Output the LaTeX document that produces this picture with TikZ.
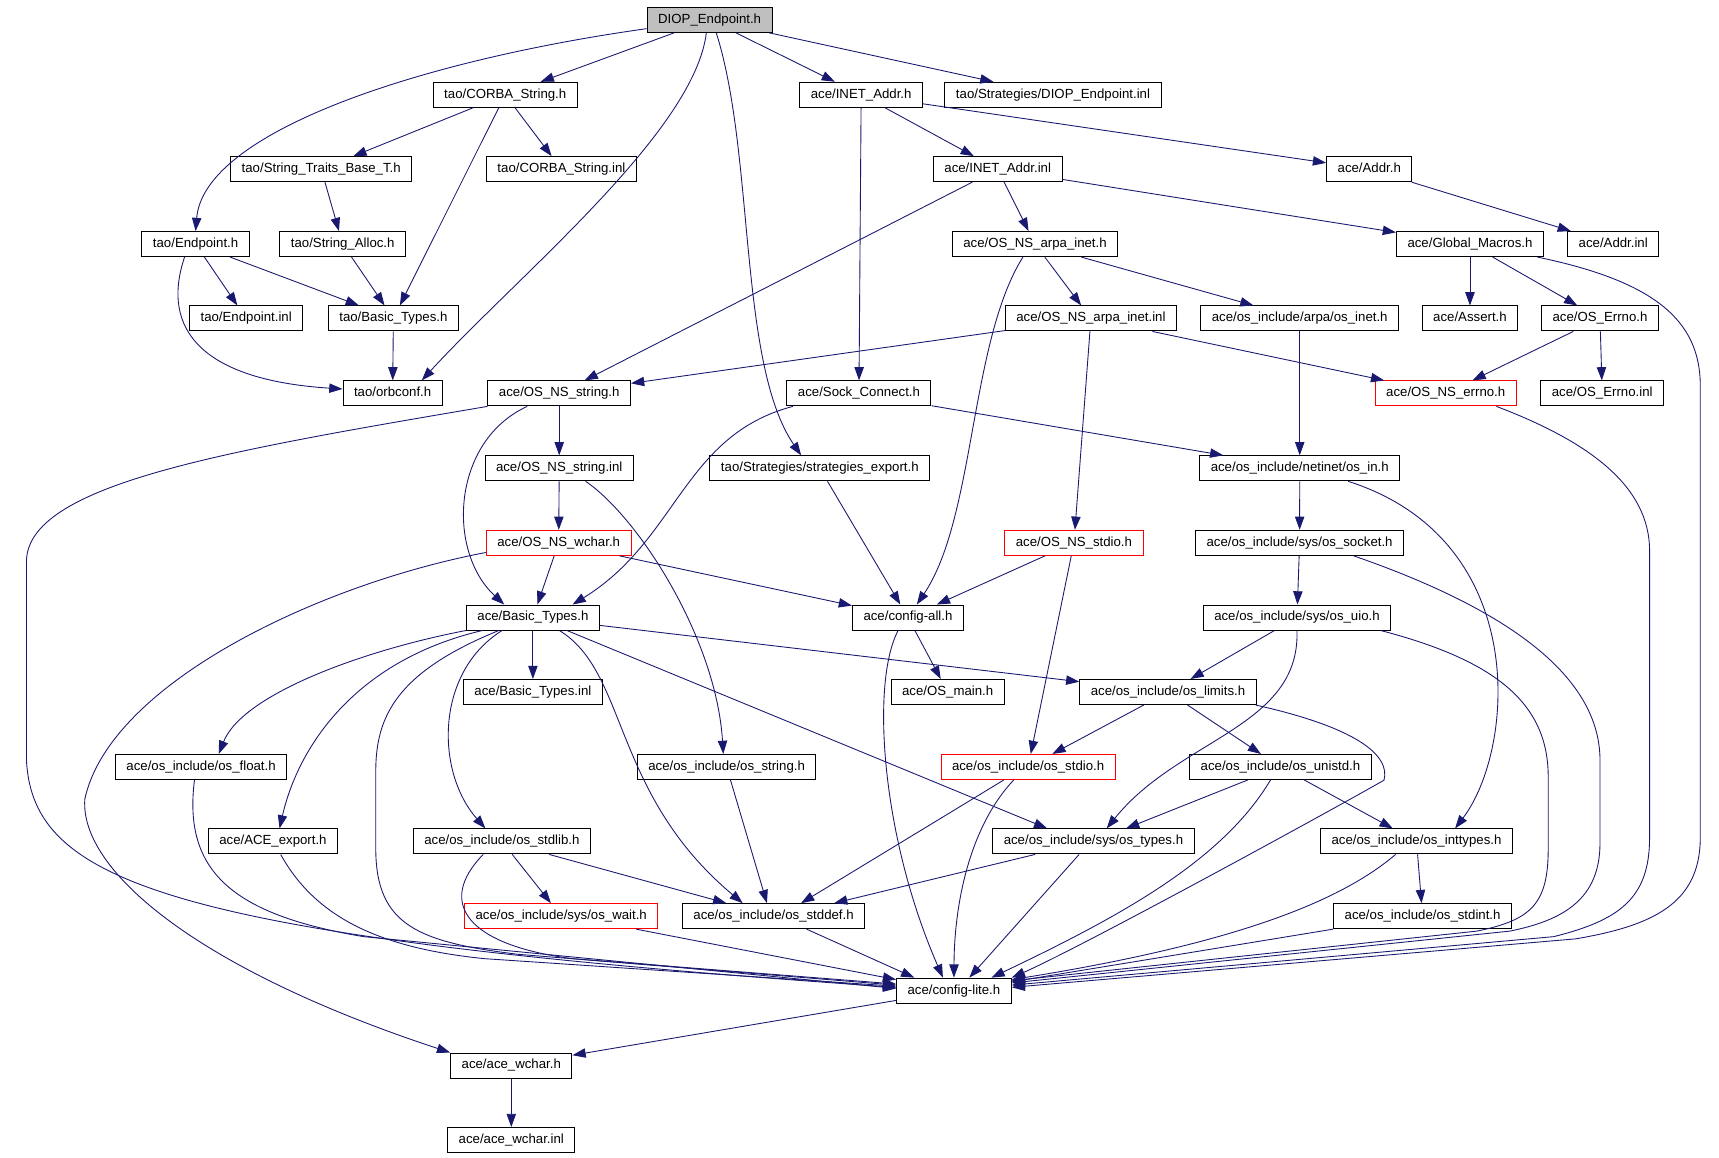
\documentclass[tikz,border=0pt]{standalone}
\usepackage{fontspec}
\setmainfont{Liberation Sans}
\usetikzlibrary{arrows.meta}
\definecolor{depblue}{HTML}{191970}
\definecolor{rootgray}{HTML}{BFBFBF}

\begin{document}
\begin{tikzpicture}[x=1pt,y=-1pt,
    hdr/.style={draw=black,line width=0.9pt,minimum height=22.7pt,inner xsep=10pt,inner ysep=0pt,
      text height=8.6pt,text depth=2.4pt,font=\fontsize{12}{14}\selectfont},
    hdrred/.style={hdr,draw=red},
    hdrroot/.style={hdr,fill=rootgray},
    dep/.style={draw=depblue,line width=0.8pt,-{Triangle[length=12pt,width=8.5pt]}}]
    \useasboundingbox (0,0) rectangle (1560,1050);

    \node[hdrroot] (diop) at (644,18) {DIOP\_Endpoint.h};

    \node[hdr] (corba) at (458.5,86) {tao/CORBA\_String.h};
    \node[hdr] (inetaddr) at (781.5,86) {ace/INET\_Addr.h};
    \node[hdr] (diopinl) at (955.6,86) {tao/Strategies/DIOP\_Endpoint.inl};

    \node[hdr] (strtraits) at (291.5,153.5) {tao/String\_Traits\_Base\_T.h};
    \node[hdr] (corbainl) at (509.5,153.5) {tao/CORBA\_String.inl};
    \node[hdr] (inetinl) at (905.4,153.5) {ace/INET\_Addr.inl};
    \node[hdr] (addr) at (1242.6,153.5) {ace/Addr.h};

    \node[hdr] (endpt) at (177.5,221.5) {tao/Endpoint.h};
    \node[hdr] (stralloc) at (311,221.5) {tao/String\_Alloc.h};
    \node[hdr] (arpah) at (939.3,221.5) {ace/OS\_NS\_arpa\_inet.h};
    \node[hdr] (gmacros) at (1334,221.5) {ace/Global\_Macros.h};
    \node[hdr] (addrinl) at (1464,221.5) {ace/Addr.inl};

    \node[hdr] (endptinl) at (223.4,289) {tao/Endpoint.inl};
    \node[hdr] (taobt) at (357,289) {tao/Basic\_Types.h};
    \node[hdr] (arpainl) at (990,289) {ace/OS\_NS\_arpa\_inet.inl};
    \node[hdr] (arpainet) at (1179.5,289) {ace/os\_include/arpa/os\_inet.h};
    \node[hdr] (assert) at (1334,289) {ace/Assert.h};
    \node[hdr] (errno) at (1452,289) {ace/OS\_Errno.h};

    \node[hdr] (orbconf) at (356.3,357) {tao/orbconf.h};
    \node[hdr] (nsstring) at (507.5,357) {ace/OS\_NS\_string.h};
    \node[hdr] (sockconn) at (779.5,357) {ace/Sock\_Connect.h};
    \node[hdrred] (nserrno) at (1312,357) {ace/OS\_NS\_errno.h};
    \node[hdr] (errnoinl) at (1454,357) {ace/OS\_Errno.inl};

    \node[hdr] (nsstringinl) at (507.5,425) {ace/OS\_NS\_string.inl};
    \node[hdr] (stratexp) at (744,425) {tao/Strategies/strategies\_export.h};
    \node[hdr] (netinet) at (1179.5,425) {ace/os\_include/netinet/os\_in.h};

    \node[hdrred] (nswchar) at (507,492.6) {ace/OS\_NS\_wchar.h};
    \node[hdrred] (nsstdio) at (974.6,492.6) {ace/OS\_NS\_stdio.h};
    \node[hdr] (ossocket) at (1179.4,492.6) {ace/os\_include/sys/os\_socket.h};

    \node[hdr] (acebt) at (483.6,560.4) {ace/Basic\_Types.h};
    \node[hdr] (cfgall) at (824,560.4) {ace/config-all.h};
    \node[hdr] (osuio) at (1177,560.4) {ace/os\_include/sys/os\_uio.h};

    \node[hdr] (acebtinl) at (483.6,628) {ace/Basic\_Types.inl};
    \node[hdr] (osmain) at (860,628) {ace/OS\_main.h};
    \node[hdr] (oslimits) at (1060,628) {ace/os\_include/os\_limits.h};

    \node[hdr] (osfloat) at (182.5,696) {ace/os\_include/os\_float.h};
    \node[hdr] (osstring) at (659.4,696) {ace/os\_include/os\_string.h};
    \node[hdrred] (osstdio) at (933,696) {ace/os\_include/os\_stdio.h};
    \node[hdr] (osunistd) at (1162,696) {ace/os\_include/os\_unistd.h};

    \node[hdr] (aceexport) at (247.7,763.6) {ace/ACE\_export.h};
    \node[hdr] (osstdlib) at (455.5,763.6) {ace/os\_include/os\_stdlib.h};
    \node[hdr] (ostypes) at (992.3,763.6) {ace/os\_include/sys/os\_types.h};
    \node[hdr] (osinttypes) at (1285.5,763.6) {ace/os\_include/os\_inttypes.h};

    \node[hdrred] (oswait) at (509.3,831.4) {ace/os\_include/sys/os\_wait.h};
    \node[hdr] (osstddef) at (702,831.4) {ace/os\_include/os\_stddef.h};
    \node[hdr] (osstdint) at (1291,831.4) {ace/os\_include/os\_stdint.h};

    \node[hdr] (cfglite) at (865.7,899) {ace/config-lite.h};
    \node[hdr] (acewchar) at (464,967) {ace/ace\_wchar.h};
    \node[hdr] (acewcharinl) at (464,1034.6) {ace/ace\_wchar.inl};

    \draw[dep] ([yshift=-8pt]diop.west) .. controls (380,55) and (185,120) .. (endpt.north);
    \draw[dep] (diop) to (corba);
    \draw[dep] ([xshift=-3pt]diop.south) .. controls (630,120) and (470,250) .. ([xshift=-19pt]orbconf.north east);
    \draw[dep] ([xshift=6pt]diop.south) .. controls (685,140) and (670,330) .. ([xshift=-17pt]stratexp.north);
    \draw[dep] (diop) to (inetaddr);
    \draw[dep] (diop) to (diopinl);

    \draw[dep] (corba) to (strtraits);
    \draw[dep] (corba) to (corbainl);
    \draw[dep] (corba) to (taobt);
    \draw[dep] (strtraits) to (stralloc);
    \draw[dep] (stralloc) to (taobt);
    \draw[dep] (endpt) to (endptinl);
    \draw[dep] (endpt) to (taobt);
    \draw[dep] ([xshift=-10pt]endpt.south) .. controls (145,300) and (185,345) .. ([yshift=4pt]orbconf.west);
    \draw[dep] (taobt) to (orbconf);

    \draw[dep] (inetaddr) to (inetinl);
    \draw[dep] (inetaddr) to (addr);
    \draw[dep] (inetaddr) to (sockconn);
    \draw[dep] (addr) to (addrinl);
    \draw[dep] (inetinl) to (nsstring);
    \draw[dep] (inetinl) to (arpah);
    \draw[dep] (inetinl) to (gmacros);

    \draw[dep] (arpah) to (arpainl);
    \draw[dep] (arpah) to (arpainet);
    \draw[dep] ([xshift=-11pt]arpah.south) .. controls (880,310) and (885,470) .. ([xshift=8pt]cfgall.north);
    \draw[dep] (gmacros) to (assert);
    \draw[dep] (gmacros) to (errno);
    \draw[dep] ([xshift=-6pt]gmacros.south east) .. controls (1500,255) and (1543,290) .. (1543,350)
        -- (1543,760) .. controls (1543,820) and (1500,840) .. (1430,852) -- ([yshift=3pt]cfglite.east);

    \draw[dep] (errno) to (nserrno);
    \draw[dep] (errno) to (errnoinl);
    \draw[dep] (arpainl) to (nsstring);
    \draw[dep] (arpainl) to (nserrno);
    \draw[dep] (arpainl) to (nsstdio);
    \draw[dep] (arpainet) to (netinet);
    \draw[dep] ([xshift=46pt]nserrno.south) .. controls (1440,400) and (1497,440) .. (1497,500)
        -- (1497,760) .. controls (1497,815) and (1470,835) .. (1410,850) -- ([yshift=5pt]cfglite.east);

    \draw[dep] (nsstring.south west) .. controls (200,410) and (24,440) .. (24,510)
        -- (24,690) .. controls (30,800) and (150,850) .. ([yshift=3pt]cfglite.west);
    \draw[dep] (nsstring) to (nsstringinl);
    \draw[dep] ([xshift=-29pt]nsstring.south) .. controls (410,400) and (405,500) .. ([xshift=-26pt]acebt.north);
    \draw[dep] ([xshift=-60pt]sockconn.south) .. controls (620,395) and (615,490) .. ([xshift=36pt]acebt.north);
    \draw[dep] (sockconn) to (netinet);

    \draw[dep] (nsstringinl) to (nswchar);
    \draw[dep] ([xshift=24pt]nsstringinl.south) .. controls (580,470) and (650,580) .. ([xshift=-3pt]osstring.north);
    \draw[dep] (stratexp) to (cfgall);
    \draw[dep] (netinet) to (ossocket);
    \draw[dep] ([xshift=44pt]netinet.south) .. controls (1390,490) and (1375,680) .. ([xshift=35pt]osinttypes.north);

    \draw[dep] (nswchar) to (acebt);
    \draw[dep] (nswchar) to (cfgall);
    \draw[dep] ([yshift=3pt]nswchar.south west) .. controls (290,530) and (100,620) .. (77,725)
        .. controls (72,790) and (180,880) .. (acewchar.north west);
    \draw[dep] (nsstdio) to (cfgall);
    \draw[dep] (nsstdio) to (osstdio);
    \draw[dep] (ossocket) to (osuio);
    \draw[dep] ([xshift=49pt]ossocket.south) .. controls (1360,550) and (1452,610) .. (1452,690)
        -- (1452,765) .. controls (1452,815) and (1420,835) .. (1370,845) -- ([yshift=7pt]cfglite.east);

    \draw[dep] (acebt.south west) .. controls (330,590) and (220,630) .. ([xshift=16pt]osfloat.north);
    \draw[dep] ([xshift=-46pt]acebt.south) .. controls (320,600) and (270,680) .. ([xshift=6pt]aceexport.north);
    \draw[dep] ([xshift=-31pt]acebt.south) .. controls (360,610) and (341,650) .. (341,700)
        -- (341,770) .. controls (341,840) and (380,855) .. (470,866) -- ([yshift=5pt]cfglite.west);
    \draw[dep] ([xshift=-28pt]acebt.south) .. controls (395,610) and (395,700) .. ([xshift=-15pt]osstdlib.north);
    \draw[dep] (acebt) to (acebtinl);
    \draw[dep] ([xshift=24pt]acebt.south) .. controls (570,610) and (555,720) .. ([xshift=-28pt]osstddef.north);
    \draw[dep] ([xshift=31pt]acebt.south) to ([xshift=-42pt]ostypes.north);
    \draw[dep] (acebt) to (oslimits);

    \draw[dep] (cfgall) to (osmain);
    \draw[dep] ([xshift=-9pt]cfgall.south) .. controls (790,620) and (800,760) .. ([xshift=-10pt]cfglite.north);
    \draw[dep] (osuio) to (oslimits);
    \draw[dep] (osuio.south) .. controls (1180,660) and (1070,670) .. ([xshift=12pt]ostypes.north);
    \draw[dep] ([xshift=76pt]osuio.south) .. controls (1360,600) and (1405,640) .. (1405,705)
        -- (1405,770) .. controls (1405,820) and (1390,835) .. (1340,845) -- ([yshift=9pt]cfglite.east);

    \draw[dep] (oslimits) to (osstdio);
    \draw[dep] (oslimits) to (osunistd);
    \draw[dep] ([xshift=-1pt]oslimits.south east) .. controls (1230,660) and (1262,685) .. (1256,708)
        .. controls (1200,740) and (980,860) .. (cfglite.north east);

    \draw[dep] ([xshift=-6pt]osfloat.south) .. controls (166,790) and (210,830) .. (330,850) -- ([yshift=2pt]cfglite.west);
    \draw[dep] (osstring) to ([xshift=-6pt]osstddef.north);
    \draw[dep] ([xshift=-22pt]osstdio.south) to ([xshift=25pt]osstddef.north);
    \draw[dep] ([xshift=-13pt]osstdio.south) .. controls (880,750) and (866,820) .. (cfglite.north);
    \draw[dep] (osunistd) to (ostypes);
    \draw[dep] (osunistd) to (osinttypes);
    \draw[dep] ([xshift=-9pt]osunistd.south) .. controls (1110,780) and (1020,830) .. ([xshift=34pt]cfglite.north);

    \draw[dep] ([xshift=7pt]aceexport.south) .. controls (285,830) and (340,860) .. (440,870) -- ([yshift=4pt]cfglite.west);
    \draw[dep] (osstdlib) to (oswait);
    \draw[dep] (osstdlib) to (osstddef);
    \draw[dep] ([xshift=-17pt]osstdlib.south) .. controls (395,820) and (425,858) .. (520,870) -- ([yshift=6pt]cfglite.west);
    \draw[dep] ([xshift=-53pt]ostypes.south) to ([xshift=55pt]osstddef.north);
    \draw[dep] ([xshift=-13pt]ostypes.south) to ([xshift=14pt]cfglite.north);
    \draw[dep] (osinttypes) to (osstdint);
    \draw[dep] ([xshift=-19pt]osinttypes.south) .. controls (1220,815) and (1130,855) .. ([yshift=10pt]cfglite.east);

    \draw[dep] ([xshift=68pt]oswait.south) to ([yshift=10pt]cfglite.west);
    \draw[dep] ([xshift=30pt]osstddef.south) to ([xshift=-36pt]cfglite.north);
    \draw[dep] (osstdint.south west) to ([yshift=8pt]cfglite.east);

    \draw[dep] (cfglite) to (acewchar);
    \draw[dep] (acewchar) to (acewcharinl);
\end{tikzpicture}
\end{document}
